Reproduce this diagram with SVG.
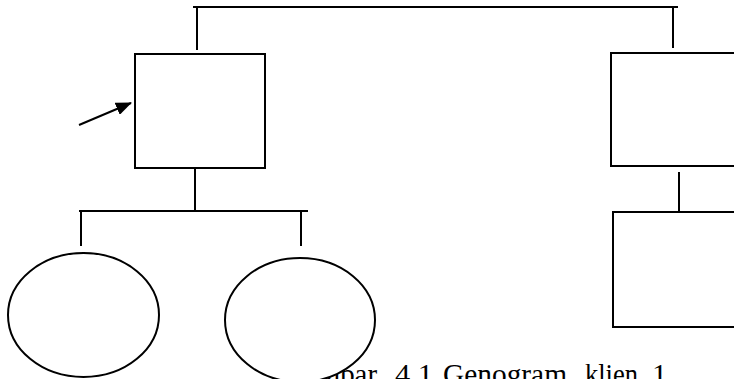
<svg xmlns="http://www.w3.org/2000/svg" width="734" height="379" viewBox="0 0 734 379">
<style>
.ln{stroke:#000;stroke-width:2;fill:none}
.nd{stroke:#000;stroke-width:2;fill:#fff}
.cap{font-family:"Liberation Serif","Times New Roman",serif;font-size:30px;fill:#000}
</style>
<defs>
<marker id="ah" markerWidth="16" markerHeight="13" refX="15" refY="6.5" orient="auto" markerUnits="userSpaceOnUse" viewBox="0 0 16 13">
<path d="M0,0 L16,6.5 L0,13 Z" fill="#000"/>
</marker>
</defs>
<rect width="734" height="379" fill="#fff"/>
<g id="caption">
<text class="cap" x="284" y="384" textLength="93" lengthAdjust="spacingAndGlyphs">Gambar</text>
<text class="cap" x="395" y="384" textLength="38" lengthAdjust="spacingAndGlyphs">4.1</text>
<text class="cap" x="443" y="384" textLength="124" lengthAdjust="spacingAndGlyphs">Genogram</text>
<text class="cap" x="585" y="384" textLength="53" lengthAdjust="spacingAndGlyphs">klien</text>
<text class="cap" x="652" y="384" textLength="15" lengthAdjust="spacingAndGlyphs">1</text>
</g>
<g id="connectors">
<path class="ln" d="M193,7 H678"/>
<path class="ln" d="M197,7 V50"/>
<path class="ln" d="M673,7 V48"/>
<path class="ln" d="M195,168 V212"/>
<path class="ln" d="M79,211 H308"/>
<path class="ln" d="M81,211 V246"/>
<path class="ln" d="M301,211 V246"/>
<path class="ln" d="M679,172 V212"/>
<path class="ln" d="M79,125 L131,103" stroke-width="2.5" marker-end="url(#ah)"/>
</g>
<g id="father"><rect class="nd" x="135" y="54" width="130" height="114"/></g>
<g id="mother"><rect class="nd" x="611" y="53" width="200" height="113"/></g>
<g id="child-right"><rect class="nd" x="613" y="212" width="200" height="115"/></g>
<g id="daughter1"><ellipse class="nd" cx="83.5" cy="315" rx="75.5" ry="62"/></g>
<g id="daughter2"><ellipse class="nd" cx="300" cy="320" rx="75" ry="62"/></g>
</svg>
